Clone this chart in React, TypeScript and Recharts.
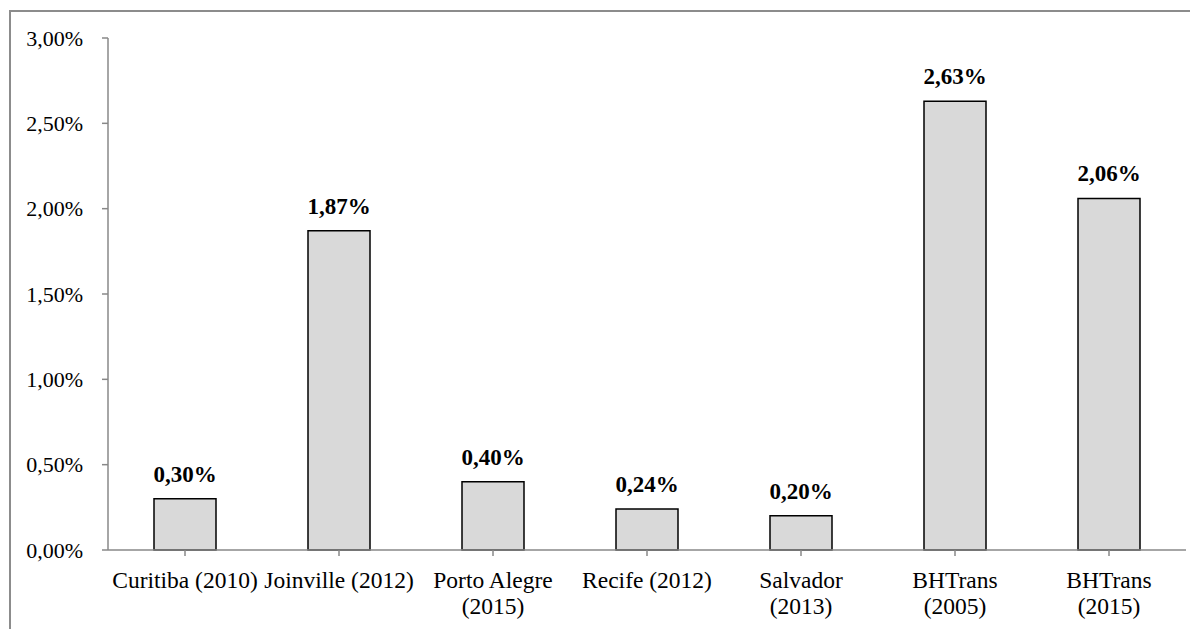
import React from 'react';
import { Bar, BarChart, LabelList, XAxis, YAxis } from 'recharts';

const categories = [
  'Curitiba (2010)',
  'Joinville (2012)',
  'Porto Alegre\n(2015)',
  'Recife (2012)',
  'Salvador\n(2013)',
  'BHTrans\n(2005)',
  'BHTrans\n(2015)',
];
const shares = [0.3, 1.87, 0.4, 0.24, 0.2, 2.63, 2.06];
const yTicks = [0, 0.5, 1, 1.5, 2, 2.5, 3];

const data = categories.map((name, i) => ({ name, value: shares[i] }));

const pct = (v: number) => v.toFixed(2).replace('.', ',') + '%';

const font = '"Liberation Serif", "Times New Roman", serif';

function CategoryTick(props: any) {
  const { x, y, payload } = props;
  const lines = String(payload.value).split('\n');
  return (
    <text x={x} y={y + 30} textAnchor="middle" fontFamily={font} fontSize={23.5} fill="#000">
      {lines.map((l, i) => (
        <tspan key={i} x={x} dy={i === 0 ? 0 : 26}>
          {l}
        </tspan>
      ))}
    </text>
  );
}

export default function App() {
  return (
    <div style={{ position: 'absolute', left: 0, top: 0, width: 1190, height: 629, overflow: 'hidden', background: '#fff' }}>
      <div
        style={{
          position: 'absolute',
          left: 9,
          top: 10,
          width: 1200,
          height: 700,
          border: '2px solid #8c8c8c',
        }}
      />
      <div style={{ position: 'absolute', left: 0, top: 0 }}>
        <BarChart
          width={1190}
          height={629}
          data={data}
          margin={{ top: 38, right: 4, bottom: 0, left: 0 }}
          barCategoryGap={46}
        >
          <XAxis
            dataKey="name"
            interval={0}
            stroke="#888888"
            strokeWidth={1.5}
            tickSize={6}
            height={79}
            tick={<CategoryTick />}
          />
          <YAxis
            domain={[0, 3]}
            ticks={yTicks}
            width={108}
            stroke="#888888"
            strokeWidth={1.5}
            tickSize={6}
            tickMargin={19}
            tickFormatter={pct}
            tick={{ fill: '#000', fontFamily: font, fontSize: 22 }}
          />
          <Bar dataKey="value" fill="#d9d9d9" stroke="#000" strokeWidth={1.5} isAnimationActive={false}>
            <LabelList
              dataKey="value"
              position="top"
              offset={17}
              formatter={(v: any) => pct(Number(v))}
              style={{ fontFamily: font, fontSize: 23, fontWeight: 'bold', fill: '#000' }}
            />
          </Bar>
        </BarChart>
      </div>
    </div>
  );
}
